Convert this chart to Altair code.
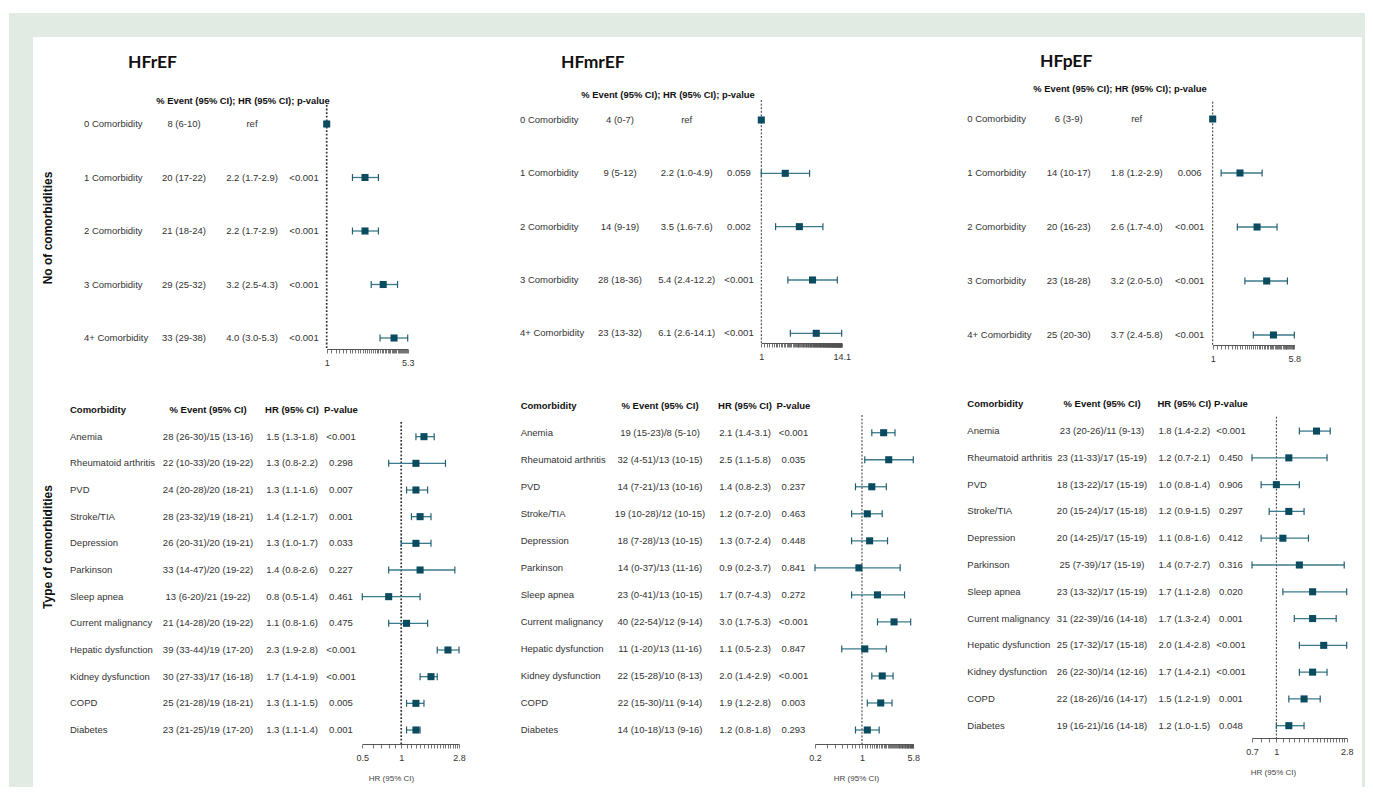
import altair as alt
import pandas as pd

# ---------------- text / categories ----------------
GROUPS = ["HFrEF", "HFmrEF", "HFpEF"]
ROW_TITLES = ["No of comorbidities", "Type of comorbidities"]
TOP_HEADER = "% Event (95% CI); HR (95% CI); p-value"
HEADERS = ["Comorbidity", "% Event (95% CI)", "HR (95% CI)", "P-value"]
AXIS_TITLE = "HR (95% CI)"

COUNT_CATS = ["0 Comorbidity", "1 Comorbidity", "2 Comorbidity", "3 Comorbidity", "4+ Comorbidity"]
TYPE_CATS = ["Anemia", "Rheumatoid arthritis", "PVD", "Stroke/TIA", "Depression", "Parkinson",
             "Sleep apnea", "Current malignancy", "Hepatic dysfunction", "Kidney dysfunction",
             "COPD", "Diabetes"]

# ---------------- HFrEF ----------------
hfref_cnt_event = ["8 (6-10)", "20 (17-22)", "21 (18-24)", "29 (25-32)", "33 (29-38)"]
hfref_cnt_hr = [1.0, 2.2, 2.2, 3.2, 4.0]
hfref_cnt_lo = [1.0, 1.7, 1.7, 2.5, 3.0]
hfref_cnt_hi = [1.0, 2.9, 2.9, 4.3, 5.3]
hfref_cnt_p = ["", "<0.001", "<0.001", "<0.001", "<0.001"]

hfref_type_event = ["28 (26-30)/15 (13-16)", "22 (10-33)/20 (19-22)", "24 (20-28)/20 (18-21)",
                    "28 (23-32)/19 (18-21)", "26 (20-31)/20 (19-21)", "33 (14-47)/20 (19-22)",
                    "13 (6-20)/21 (19-22)", "21 (14-28)/20 (19-22)", "39 (33-44)/19 (17-20)",
                    "30 (27-33)/17 (16-18)", "25 (21-28)/19 (18-21)", "23 (21-25)/19 (17-20)"]
hfref_type_hr = [1.5, 1.3, 1.3, 1.4, 1.3, 1.4, 0.8, 1.1, 2.3, 1.7, 1.3, 1.3]
hfref_type_lo = [1.3, 0.8, 1.1, 1.2, 1.0, 0.8, 0.5, 0.8, 1.9, 1.4, 1.1, 1.1]
hfref_type_hi = [1.8, 2.2, 1.6, 1.7, 1.7, 2.6, 1.4, 1.6, 2.8, 1.9, 1.5, 1.4]
hfref_type_p = ["<0.001", "0.298", "0.007", "0.001", "0.033", "0.227", "0.461", "0.475",
                "<0.001", "<0.001", "0.005", "0.001"]

# ---------------- HFmrEF ----------------
hfmref_cnt_event = ["4 (0-7)", "9 (5-12)", "14 (9-19)", "28 (18-36)", "23 (13-32)"]
hfmref_cnt_hr = [1.0, 2.2, 3.5, 5.4, 6.1]
hfmref_cnt_lo = [1.0, 1.0, 1.6, 2.4, 2.6]
hfmref_cnt_hi = [1.0, 4.9, 7.6, 12.2, 14.1]
hfmref_cnt_p = ["", "0.059", "0.002", "<0.001", "<0.001"]

hfmref_type_event = ["19 (15-23)/8 (5-10)", "32 (4-51)/13 (10-15)", "14 (7-21)/13 (10-16)",
                     "19 (10-28)/12 (10-15)", "18 (7-28)/13 (10-15)", "14 (0-37)/13 (11-16)",
                     "23 (0-41)/13 (10-15)", "40 (22-54)/12 (9-14)", "11 (1-20)/13 (11-16)",
                     "22 (15-28)/10 (8-13)", "22 (15-30)/11 (9-14)", "14 (10-18)/13 (9-16)"]
hfmref_type_hr = [2.1, 2.5, 1.4, 1.2, 1.3, 0.9, 1.7, 3.0, 1.1, 2.0, 1.9, 1.2]
hfmref_type_lo = [1.4, 1.1, 0.8, 0.7, 0.7, 0.2, 0.7, 1.7, 0.5, 1.4, 1.2, 0.8]
hfmref_type_hi = [3.1, 5.8, 2.3, 2.0, 2.4, 3.7, 4.3, 5.3, 2.3, 2.9, 2.8, 1.8]
hfmref_type_p = ["<0.001", "0.035", "0.237", "0.463", "0.448", "0.841", "0.272", "<0.001",
                 "0.847", "<0.001", "0.003", "0.293"]

# ---------------- HFpEF ----------------
hfpef_cnt_event = ["6 (3-9)", "14 (10-17)", "20 (16-23)", "23 (18-28)", "25 (20-30)"]
hfpef_cnt_hr = [1.0, 1.8, 2.6, 3.2, 3.7]
hfpef_cnt_lo = [1.0, 1.2, 1.7, 2.0, 2.4]
hfpef_cnt_hi = [1.0, 2.9, 4.0, 5.0, 5.8]
hfpef_cnt_p = ["", "0.006", "<0.001", "<0.001", "<0.001"]

hfpef_type_event = ["23 (20-26)/11 (9-13)", "23 (11-33)/17 (15-19)", "18 (13-22)/17 (15-19)",
                    "20 (15-24)/17 (15-18)", "20 (14-25)/17 (15-19)", "25 (7-39)/17 (15-19)",
                    "23 (13-32)/17 (15-19)", "31 (22-39)/16 (14-18)", "25 (17-32)/17 (15-18)",
                    "26 (22-30)/14 (12-16)", "22 (18-26)/16 (14-17)", "19 (16-21)/16 (14-18)"]
hfpef_type_hr = [1.8, 1.2, 1.0, 1.2, 1.1, 1.4, 1.7, 1.7, 2.0, 1.7, 1.5, 1.2]
hfpef_type_lo = [1.4, 0.7, 0.8, 0.9, 0.8, 0.7, 1.1, 1.3, 1.4, 1.4, 1.2, 1.0]
hfpef_type_hi = [2.2, 2.1, 1.4, 1.5, 1.6, 2.7, 2.8, 2.4, 2.8, 2.1, 1.9, 1.5]
hfpef_type_p = ["<0.001", "0.450", "0.906", "0.297", "0.412", "0.316", "0.020", "0.001",
                "<0.001", "<0.001", "0.001", "0.048"]

# ---------------- styling ----------------
W, H = 1329, 750
BG = "#e1ebe4"
MARK = "#0b4b60"
LINE = "#3b7b8b"
CAP = "#245f70"
TXT = "#333333"
HDR_KEY = "__header__"
FONT = "Liberation Sans"
TFONT = "Lato"


def fmt_hr(h, l, u):
    return f"{h:.1f} ({l:.1f}-{u:.1f})"


def make_df(cats, event, hr, lo, hi, p, ref_first=False):
    txt = [fmt_hr(a, b, c) for a, b, c in zip(hr, lo, hi)]
    if ref_first:
        txt[0] = "ref"
    return pd.DataFrame({"cat": cats, "event": event, "hrtxt": txt, "p": p,
                         "hr": hr, "lo": lo, "hi": hi})


def tick_values(lo, hi):
    return [round(k / 10, 1) for k in range(int(round(lo * 10)), int(round(hi * 10)) + 1)]


def panel(df, lay, header):
    ydom = ([HDR_KEY] + list(df["cat"])) if header else list(df["cat"])
    ysc = alt.Scale(type="point", domain=ydom, range=list(lay["y"]), padding=0)
    xsc = alt.Scale(type="log", domain=lay["xdom"], range=list(lay["xr"]), nice=False, zero=False)
    Y = alt.Y("cat:N", scale=ysc, axis=None)
    out = []
    # reference line at HR = 1
    out.append(
        alt.Chart(pd.DataFrame({"ref": [1.0]}))
        .mark_rule(color="#333333", strokeDash=lay["dash"], strokeWidth=lay["dashw"])
        .encode(x=alt.X("ref:Q", scale=xsc, axis=None),
                y=alt.value(lay["ref"][0]), y2=alt.value(lay["ref"][1]))
    )
    ci = alt.Chart(df).transform_filter("datum.hi > datum.lo")
    out.append(ci.mark_rule(color=LINE, strokeWidth=1.3)
               .encode(x=alt.X("lo:Q", scale=xsc, axis=None), x2="hi:Q", y=Y))
    for f in ["lo", "hi"]:
        out.append(ci.mark_tick(color=CAP, size=7, thickness=1.2, opacity=1)
                   .encode(x=alt.X(f"{f}:Q", scale=xsc, axis=None), y=Y))
    labs = ",".join(f"'{s}'" for s in lay["labels"])
    axis_kw = dict(
        orient="bottom", offset=-(H - lay["axis_y"]),
        values=tick_values(*lay["xdom"]), format="~g",
        labelExpr=f"indexof([{labs}], datum.label) >= 0 ? datum.label : ''",
        labelFlush=False, labelOverlap=False, grid=False,
        domainColor="#555555", domainWidth=1, tickColor="#505050", tickWidth=0.8, tickSize=4,
        labelFont=FONT, labelFontSize=9, labelColor="#333333", labelPadding=5,
    )
    if header:
        axis_kw.update(title=AXIS_TITLE, titleFont=FONT, titleFontSize=8, titleFontWeight="normal",
                       titleColor="#444444", titleX=lay["titleX"], titleY=30, titleAlign="center",
                       titleBaseline="top")
    else:
        axis_kw.update(title="")
    out.append(alt.Chart(df).mark_square(size=50, color=MARK, opacity=1)
               .encode(x=alt.X("hr:Q", scale=xsc, axis=alt.Axis(**axis_kw)), y=Y))
    # table columns
    hdf = pd.DataFrame({"cat": [HDR_KEY], "name": [HEADERS[0]], "event": [HEADERS[1]],
                        "hrtxt": [HEADERS[2]], "p": [HEADERS[3]]})
    for key, field, align in [("cat", "cat", "left"), ("event", "event", "center"),
                              ("hrtxt", "hrtxt", "center"), ("p", "p", "center")]:
        px = lay["cols"][key]
        X = alt.XDatum(key, type="nominal", axis=None,
                       scale=alt.Scale(type="point", domain=[key], range=[px, px]))
        out.append(alt.Chart(df).mark_text(align=align, baseline="middle", font=FONT,
                                           fontSize=9.5, color=TXT)
                   .encode(x=X, y=Y, text=f"{field}:N"))
        if header:
            hfield = "name" if key == "cat" else field
            out.append(alt.Chart(hdf).mark_text(align=align, baseline="middle", font=FONT,
                                                fontSize=9.5, fontWeight="bold", color="#111111")
                       .encode(x=X, y=Y, text=f"{hfield}:N"))
    return out


def note(text, x, y, **kw):
    return (alt.Chart(pd.DataFrame({"t": [text]})).mark_text(**kw)
            .encode(x=alt.value(x), y=alt.value(y), text="t:N"))


def frame_strip(x1, x2, y1, y2):
    return (alt.Chart(pd.DataFrame({"f": [0]})).mark_rect(color=BG)
            .encode(x=alt.value(x1), x2=alt.value(x2), y=alt.value(y1), y2=alt.value(y2)))


# ---------------- layout (positions, view coordinates) ----------------
LAYOUTS = [
    dict(y=(87, 301), cols={"cat": 51, "event": 151, "hrtxt": 219, "p": 271},
         xdom=[1, 5.3], xr=(293.7, 374.7), axis_y=312, ref=(68, 312), labels=["1", "5.3"],
         dash=[1.8, 1.8], dashw=1.7),
    dict(y=(83, 296.3), cols={"cat": 487, "event": 587, "hrtxt": 653.7, "p": 706},
         xdom=[1, 14.1], xr=(728.3, 808.7), axis_y=306, ref=(63, 306), labels=["1", "14.1"],
         dash=[2, 1.6], dashw=1),
    dict(y=(82, 298), cols={"cat": 934.3, "event": 1035.7, "hrtxt": 1103.7, "p": 1156.7},
         xdom=[1, 5.8], xr=(1179.7, 1261.3), axis_y=308, ref=(64.7, 308), labels=["1", "5.8"],
         dash=[2, 1.6], dashw=1),
    dict(y=(373, 693), cols={"cat": 37, "event": 175, "hrtxt": 259, "p": 308},
         xdom=[0.5, 2.8], xr=(329.3, 426), axis_y=707, ref=(385, 707), labels=["0.5", "1", "2.8"],
         titleX=358, dash=[1.8, 1.8], dashw=1.7),
    dict(y=(368.7, 693), cols={"cat": 487.7, "event": 627, "hrtxt": 712, "p": 760.5},
         xdom=[0.2, 5.8], xr=(782, 880.3), axis_y=707, ref=(378, 707), labels=["0.2", "1", "5.8"],
         titleX=823, dash=[2, 1.6], dashw=1),
    dict(y=(367.3, 688.7), cols={"cat": 934.3, "event": 1069, "hrtxt": 1151.3, "p": 1198},
         xdom=[0.7, 2.8], xr=(1219, 1313.7), axis_y=701, ref=(379.7, 701), labels=["0.7", "1", "2.8"],
         titleX=1240, dash=[2, 1.6], dashw=1),
]

frames = [
    (make_df(COUNT_CATS, hfref_cnt_event, hfref_cnt_hr, hfref_cnt_lo, hfref_cnt_hi, hfref_cnt_p, True), False),
    (make_df(COUNT_CATS, hfmref_cnt_event, hfmref_cnt_hr, hfmref_cnt_lo, hfmref_cnt_hi, hfmref_cnt_p, True), False),
    (make_df(COUNT_CATS, hfpef_cnt_event, hfpef_cnt_hr, hfpef_cnt_lo, hfpef_cnt_hi, hfpef_cnt_p, True), False),
    (make_df(TYPE_CATS, hfref_type_event, hfref_type_hr, hfref_type_lo, hfref_type_hi, hfref_type_p), True),
    (make_df(TYPE_CATS, hfmref_type_event, hfmref_type_hr, hfmref_type_lo, hfmref_type_hi, hfmref_type_p), True),
    (make_df(TYPE_CATS, hfpef_type_event, hfpef_type_hr, hfpef_type_lo, hfpef_type_hi, hfpef_type_p), True),
]

# light green frame around the white figure area
layers = [
    frame_strip(-24, 0, -24, H + 10),
    frame_strip(-24, W + 3, -24, 0),
    frame_strip(W, W + 3, -24, H + 10),
]
for (df, hdr), lay in zip(frames, LAYOUTS):
    layers += panel(df, lay, hdr)

# titles and headings
title_pos = [(95, 26), (528, 26), (1007, 25)]
for g, (x, y) in zip(GROUPS, title_pos):
    layers.append(note(g, x, y, align="left", baseline="middle", font=TFONT, fontSize=17.5,
                       fontWeight="bold", color="#111111"))
head_pos = [(210, 64), (635, 58), (1087, 52)]
for x, y in head_pos:
    layers.append(note(TOP_HEADER, x, y, align="center", baseline="middle", font=FONT,
                       fontSize=9.4, fontWeight="bold", color="#111111"))
for t, (x, y) in zip(ROW_TITLES, [(15, 191), (15, 510)]):
    layers.append(note(t, x, y, align="center", baseline="middle", font=FONT, fontSize=12,
                       fontWeight="bold", angle=270, color="#111111"))

chart = (
    alt.layer(*layers)
    .resolve_scale(x="independent", y="independent")
    .properties(width=W, height=H,
                padding={"left": 25, "top": 29, "right": 3, "bottom": 0},
                autosize=alt.AutoSizeParams(type="none"),
                background="white")
    .configure_view(fill="white", stroke=None)
)

chart.save("out.html", embed_options={"renderer": "svg", "actions": False})
